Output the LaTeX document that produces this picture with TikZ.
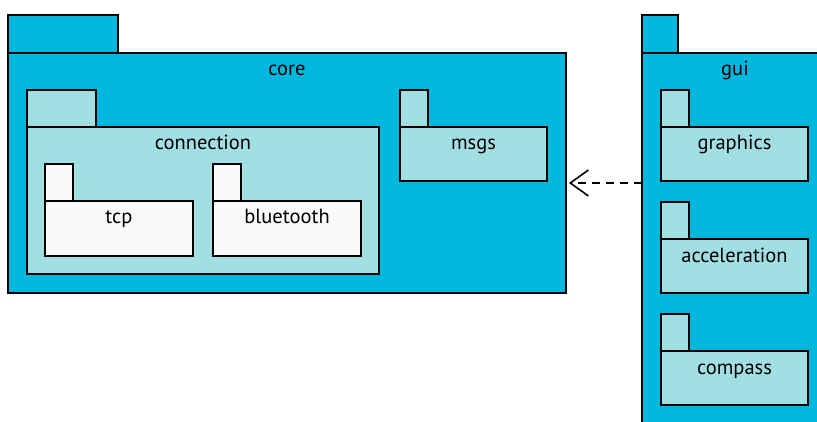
\documentclass[tikz,border=0pt]{standalone}
\usepackage{fontspec}
\setmainfont{PT Sans}
\usepackage{tikz}
\usetikzlibrary{arrows.meta,positioning}

\definecolor{pkgdark}{RGB}{0,183,221}
\definecolor{pkglight}{RGB}{162,223,227}
\definecolor{pkgwhite}{RGB}{249,249,249}

\tikzset{
  pkg/.style={draw, line width=1.8pt, anchor=north west, inner sep=0pt, outer sep=0pt},
  pkgname/.style={font=\fontsize{20.5}{24}\selectfont, inner sep=0pt},
  dep/.style={line width=1.6pt, dash pattern=on 8pt off 6pt, -{Straight Barb[length=18pt, width=26pt, line width=1.6pt]}}
}

\begin{document}
\begin{tikzpicture}[x=1pt, y=-1pt]
  \useasboundingbox (0,0) rectangle (817,422);
  \clip (0,0) rectangle (817,422);

  % core package
  \node[pkg, fill=pkgdark, minimum width=110pt, minimum height=38pt] (coretab) at (8,15) {};
  \node[pkg, fill=pkgdark, minimum width=558pt, minimum height=240pt] (core) at (8,53) {};
  \node[pkgname, below=23pt of core.north, anchor=base] (corename) {core};

  \node[pkg, fill=pkglight, minimum width=69pt, minimum height=37pt] (conntab) at (27,90) {};
  \node[pkg, fill=pkglight, minimum width=352pt, minimum height=147pt] (conn) at (27,127) {};
  \node[pkgname, below=23pt of conn.north, anchor=base] (connname) {connection};

  \node[pkg, fill=pkgwhite, minimum width=28pt, minimum height=37pt] (tcptab) at (45,164) {};
  \node[pkg, fill=pkgwhite, minimum width=148pt, minimum height=55pt] (tcp) at (45,201) {};
  \node[pkgname, below=23pt of tcp.north, anchor=base] (tcpname) {tcp};

  \node[pkg, fill=pkgwhite, minimum width=28pt, minimum height=37pt] (bttab) at (213,164) {};
  \node[pkg, fill=pkgwhite, minimum width=148pt, minimum height=55pt] (bt) at (213,201) {};
  \node[pkgname, below=23pt of bt.north, anchor=base] (btname) {bluetooth};

  \node[pkg, fill=pkglight, minimum width=28pt, minimum height=37pt] (msgstab) at (400,90) {};
  \node[pkg, fill=pkglight, minimum width=147pt, minimum height=54pt] (msgs) at (400,127) {};
  \node[pkgname, below=23pt of msgs.north, anchor=base] (msgsname) {msgs};

  % gui package
  \node[pkg, fill=pkgdark, minimum width=36pt, minimum height=38pt] (guitab) at (642,15) {};
  \node[pkg, fill=pkgdark, minimum width=186pt, minimum height=400pt] (gui) at (642,53) {};
  \node[pkgname, anchor=base] (guiname) at (735,76) {gui};

  \node[pkg, fill=pkglight, minimum width=28pt, minimum height=37pt] (gfxtab) at (661,90) {};
  \node[pkg, fill=pkglight, minimum width=147pt, minimum height=54pt] (gfx) at (661,127) {};
  \node[pkgname, below=23pt of gfx.north, anchor=base] (gfxname) {graphics};

  \node[pkg, fill=pkglight, minimum width=28pt, minimum height=37pt] (acctab) at (661,202) {};
  \node[pkg, fill=pkglight, minimum width=147pt, minimum height=54pt] (acc) at (661,239) {};
  \node[pkgname, below=23pt of acc.north, anchor=base] (accname) {acceleration};

  \node[pkg, fill=pkglight, minimum width=28pt, minimum height=37pt] (comptab) at (661,314) {};
  \node[pkg, fill=pkglight, minimum width=147pt, minimum height=54pt] (comp) at (661,351) {};
  \node[pkgname, below=23pt of comp.north, anchor=base] (compname) {compass};

  % dependency
  \coordinate (guiport) at (642,183);
  \coordinate (coreport) at (569,183);
  \draw[dep] (guiport) -- (coreport);
\end{tikzpicture}
\end{document}
